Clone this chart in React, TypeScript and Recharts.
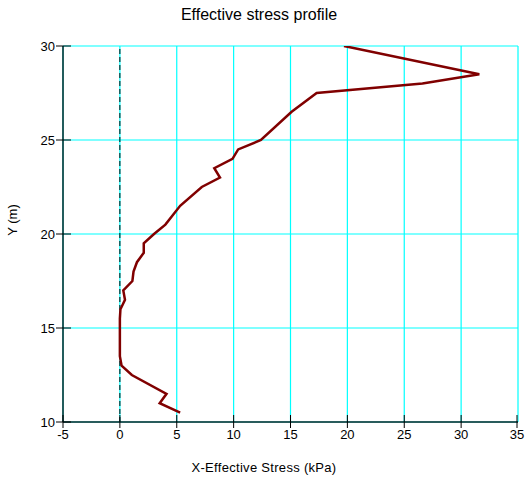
import React from 'react';
import {
  ScatterChart,
  Scatter,
  XAxis,
  YAxis,
  CartesianGrid,
  ReferenceLine,
  Label
} from 'recharts';

// depth (m) and effective stress (kPa), top of profile first
const depth = [
  30, 28.5, 28, 27.5, 26.5, 25, 24.5, 24, 23.5, 23, 22.5, 21.5, 20.5, 20, 19.5, 19,
  18.5, 18, 17.5, 17, 16.5, 16, 15.5, 15, 14.5, 14, 13.5, 13, 12.5, 11.5, 11, 10.5
];
const stress = [
  19.7, 31.6, 26.6, 17.3, 15.1, 12.4, 10.4, 9.9, 8.3, 8.8, 7.2, 5.3, 4.0, 3.0, 2.1, 2.1,
  1.5, 1.2, 1.1, 0.3, 0.45, 0.05, 0, 0, 0, 0, 0, 0.15, 1.05, 4.1, 3.5, 5.3
];

const xTicks = [-5, 0, 5, 10, 15, 20, 25, 30, 35];
const yTicks = [10, 15, 20, 25, 30];

const FONT = 'Arial, "Liberation Sans", sans-serif';
const GRID = '#00ffff';
const LINE = '#800000';
const AXIS = '#0d2626';

const profile = depth.map((d, i) => ({ x: stress[i], y: d }));

// ticks that cross the axis line: outside part plus a short stub inside the plot
const XTick = (props: any) => {
  const { x, y, payload } = props;
  const axisY = y - 8;
  return (
    <g>
      <line x1={x} x2={x} y1={axisY - 7} y2={axisY + 6} stroke="#000" />
      <text x={x} y={y} dy="0.71em" textAnchor="middle" fontSize={13} fill="#000" fontFamily={FONT}>
        {payload.value}
      </text>
    </g>
  );
};

const YTick = (props: any) => {
  const { x, y, payload } = props;
  const axisX = x + 8;
  return (
    <g>
      <line x1={axisX - 7} x2={axisX + 8} y1={y} y2={y} stroke="#000" />
      <text x={x} y={y} dy="0.355em" textAnchor="end" fontSize={13} fill="#000" fontFamily={FONT}>
        {payload.value}
      </text>
    </g>
  );
};

const YTitle = () => (
  <text
    x={12}
    y={220}
    transform="rotate(-90, 12, 220)"
    dy="0.355em"
    textAnchor="middle"
    fontSize={13}
    fill="#000"
    fontFamily={FONT}
  >
    Y (m)
  </text>
);

export default function App() {
  return (
    <div style={{ position: 'relative', width: 525, height: 478, overflow: 'hidden', fontFamily: FONT }}>
      <style>{'html,body{margin:0;padding:0;overflow:hidden}'}</style>
      <div
        style={{
          position: 'absolute',
          top: 6,
          left: 0,
          width: 518,
          textAlign: 'center',
          fontSize: 16,
          color: '#000'
        }}
      >
        Effective stress profile
      </div>
      <ScatterChart
        width={525}
        height={478}
        margin={{ top: 46, right: 7, bottom: 0, left: 0 }}
      >
        <CartesianGrid stroke={GRID} strokeWidth={1.2} />
        <XAxis
          type="number"
          dataKey="x"
          domain={[-5, 35]}
          ticks={xTicks}
          allowDataOverflow
          height={56}
          tickSize={7}
          tickMargin={1}
          tickLine={false}
          tick={<XTick />}
          axisLine={{ stroke: AXIS, strokeWidth: 1.5 }}
        />
        <YAxis
          type="number"
          dataKey="y"
          domain={[10, 30]}
          ticks={yTicks}
          allowDataOverflow
          width={63}
          tickSize={7}
          tickMargin={1}
          tickLine={false}
          tick={<YTick />}
          axisLine={{ stroke: AXIS, strokeWidth: 1.5 }}
        >
          <Label content={<YTitle />} />
        </YAxis>
        <ReferenceLine x={0} stroke="#000" strokeDasharray="5 3" strokeWidth={1} />
        <Scatter
          data={profile}
          line={{ stroke: LINE, strokeWidth: 2.5 }}
          lineJointType="linear"
          shape={() => <g />}
          isAnimationActive={false}
        />
      </ScatterChart>
      <div
        style={{
          position: 'absolute',
          top: 460,
          left: 0,
          width: 528,
          textAlign: 'center',
          fontSize: 13,
          letterSpacing: 0.3,
          color: '#000'
        }}
      >
        X-Effective Stress (kPa)
      </div>
    </div>
  );
}
